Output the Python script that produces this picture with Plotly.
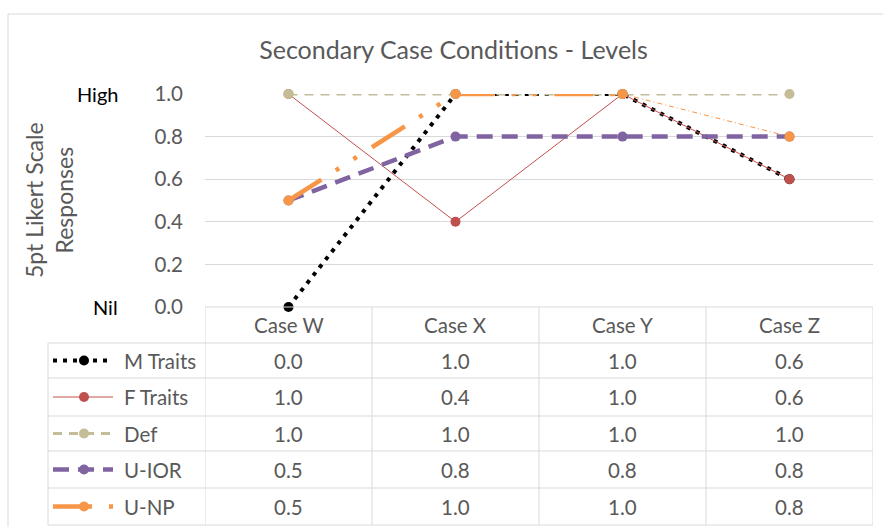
import plotly.graph_objects as go

# ---- data -------------------------------------------------------------
cases = ["Case W", "Case X", "Case Y", "Case Z"]
m_traits = [0.0, 1.0, 1.0, 0.6]
f_traits = [1.0, 0.4, 1.0, 0.6]
def_vals = [1.0, 1.0, 1.0, 1.0]
u_ior = [0.5, 0.8, 0.8, 0.8]
u_np = [0.5, 1.0, 1.0, 0.8]
series_names = ["M Traits", "F Traits", "Def", "U-IOR", "U-NP"]
y_ticks = [0.0, 0.2, 0.4, 0.6, 0.8, 1.0]
level_labels = ["Nil", "High"]
level_values = [0.0, 1.0]

# ---- styles -----------------------------------------------------------
W, H = 883, 527
FONT = "Lato"
GREY = "#595959"
GRID = "#D9D9D9"
TXT = 20.5
styles = {
    "M Traits": dict(color="#000000", width=4, dash="4px,6px"),
    "F Traits": dict(color="#C0504D", width=1, dash="solid"),
    "Def": dict(color="#C4BD97", width=3, dash="9px,7px"),
    "U-IOR": dict(color="#8064A2", width=4.5, dash="16px,9px"),
    "U-NP": dict(color="#F79646", width=4.5, dash="39px,17px,4px,17px,4px,18px"),
}
UNP_THIN = dict(color="#F79646", width=1, dash="5px,3px,1px,3px")
MARKER = 10

# plot area and table layout (pixels)
PL, PR, PT, PB = 205, 873, 94, 307
ROWS = [307, 343, 378, 416, 451, 488, 525]
LEG_L = 48


def px(x):
    return x / W


def py(y):
    return 1 - y / H


values = {"M Traits": m_traits, "F Traits": f_traits, "Def": def_vals,
          "U-IOR": u_ior, "U-NP": u_np}

fig = go.Figure()

# ---- series lines -----------------------------------------------------
for name in series_names:
    st = styles[name]
    vals = values[name]
    line = dict(color=st["color"], width=st["width"], dash=st["dash"])
    mk = dict(size=MARKER, color=st["color"])
    if name == "U-NP":
        fig.add_trace(go.Scatter(x=cases[:3], y=vals[:3], mode="lines", line=line,
                                 showlegend=False, cliponaxis=False))
        fig.add_trace(go.Scatter(x=cases[2:], y=vals[2:], mode="lines",
                                 line=UNP_THIN, showlegend=False, cliponaxis=False))
        fig.add_trace(go.Scatter(x=cases, y=vals, mode="markers", marker=mk,
                                 showlegend=False, cliponaxis=False))
    else:
        fig.add_trace(go.Scatter(x=cases, y=vals, mode="lines+markers", line=line,
                                 marker=mk, showlegend=False, cliponaxis=False))

# ---- legend keys in the table's first column ---------------------------
row_mid = [(ROWS[i] + ROWS[i + 1]) / 2 for i in range(1, 6)]
KEY_X0, KEY_X1, KEY_M = 53, 113, 84
for i, name in enumerate(series_names):
    st = styles[name]
    fig.add_trace(go.Scatter(
        x=[KEY_X0, KEY_X1], y=[row_mid[i], row_mid[i]], mode="lines",
        line=dict(color=st["color"], width=st["width"], dash=st["dash"]),
        xaxis="x2", yaxis="y2", showlegend=False, hoverinfo="skip"))
    fig.add_trace(go.Scatter(
        x=[KEY_M], y=[row_mid[i]], mode="markers",
        marker=dict(size=MARKER, color=st["color"]),
        xaxis="x2", yaxis="y2", showlegend=False, hoverinfo="skip"))

shapes = []
annotations = []
line_style = dict(color=GRID, width=1)

# outer chart frame
shapes.append(dict(type="line", xref="paper", yref="paper", x0=px(8), x1=1.0,
                   y0=py(14), y1=py(14), line=line_style))
shapes.append(dict(type="line", xref="paper", yref="paper", x0=px(8), x1=px(8),
                   y0=py(14), y1=0.0, line=line_style))

# table horizontal rules
for k, r in enumerate(ROWS):
    if k == 0:
        shapes.append(dict(type="line", xref="x", yref="paper", x0=-0.5, x1=3.5,
                           y0=py(r), y1=py(r), line=line_style))
    else:
        shapes.append(dict(type="line", xref="paper", yref="paper", x0=px(LEG_L),
                           x1=px(PR), y0=py(r), y1=py(r), line=line_style))
# table vertical rules
for b in [-0.5, 0.5, 1.5, 2.5, 3.5]:
    shapes.append(dict(type="line", xref="x", yref="paper", x0=b, x1=b,
                       y0=py(ROWS[0]), y1=py(ROWS[-1]), line=line_style))
shapes.append(dict(type="line", xref="paper", yref="paper", x0=px(LEG_L), x1=px(LEG_L),
                   y0=py(ROWS[1]), y1=py(ROWS[-1]), line=line_style))

cell_font = dict(family=FONT, size=TXT, color=GREY)

# header row
hdr_mid = (ROWS[0] + ROWS[1]) / 2
for c in cases:
    annotations.append(dict(x=c, y=py(hdr_mid), xref="x", yref="paper", text=c,
                            xanchor="center", yanchor="middle",
                            showarrow=False, font=cell_font))
# value cells and series labels
for i, name in enumerate(series_names):
    annotations.append(dict(x=px(122), y=py(row_mid[i]), xref="paper", yref="paper",
                            text=name, xanchor="left", yanchor="middle",
                            showarrow=False, font=cell_font))
    for c, v in zip(cases, values[name]):
        annotations.append(dict(x=c, y=py(row_mid[i]), xref="x", yref="paper",
                                text=f"{v:.1f}", xanchor="center", yanchor="middle",
                                showarrow=False, font=cell_font))

# level words beside the axis
for lab, v in zip(level_labels, level_values):
    annotations.append(dict(x=px(120), y=v, xref="paper", yref="y", text=lab,
                            xanchor="right", yanchor="middle", showarrow=False,
                            font=dict(family=FONT, size=20, color="#000000")))

# axis title
annotations.append(dict(x=px(49), y=py(200), xref="paper", yref="paper",
                        text="5pt Likert Scale<br>Responses", textangle=-90,
                        xanchor="center", yanchor="middle",
                        showarrow=False, font=dict(family=FONT, size=23, color=GREY)))

fig.update_layout(
    width=W, height=H,
    margin=dict(l=0, r=0, t=0, b=0, autoexpand=False),
    paper_bgcolor="white", plot_bgcolor="white",
    title=dict(text="Secondary Case Conditions - Levels", x=px(453.5), y=py(50),
               xanchor="center", yanchor="middle",
               font=dict(family=FONT, size=25, color=GREY)),
    xaxis=dict(domain=[px(PL), px(PR)], range=[-0.5, 3.5], showticklabels=False,
               showgrid=False, zeroline=False, showline=False, ticks="",
               automargin=False),
    yaxis=dict(domain=[py(PB), py(PT)], range=[0, 1], tickvals=y_ticks,
               tickformat=".1f", showgrid=True, gridcolor=GRID, gridwidth=1,
               zeroline=False, showline=False, ticks="", ticklabelstandoff=21,
               automargin=False,
               tickfont=dict(family=FONT, size=TXT, color=GREY)),
    xaxis2=dict(domain=[px(LEG_L), px(PL)], range=[LEG_L, PL], visible=False,
                anchor="y2", automargin=False),
    yaxis2=dict(domain=[py(ROWS[-1]), py(ROWS[1])], range=[ROWS[-1], ROWS[1]],
                visible=False, anchor="x2", automargin=False),
    shapes=shapes,
    annotations=annotations,
    showlegend=False,
)

fig.write_html("out.html")
